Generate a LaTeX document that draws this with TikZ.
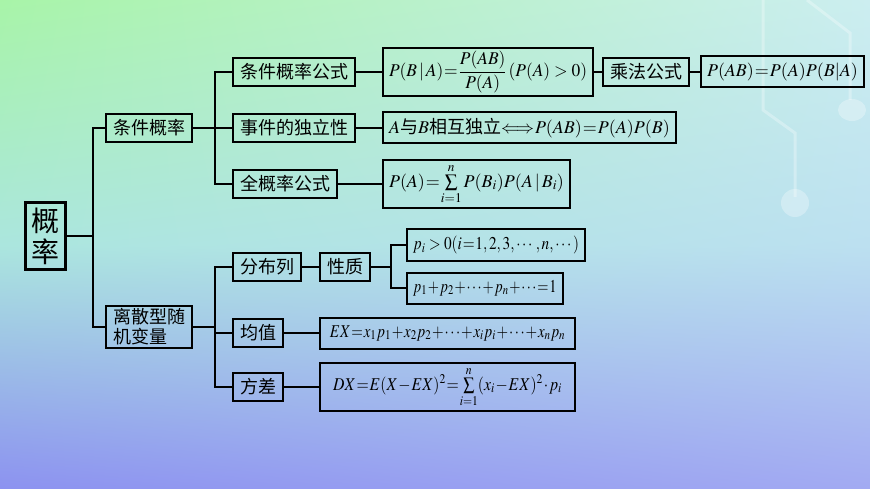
\documentclass[tikz,border=0pt]{standalone}
\usepackage{amsmath}
\usepackage{mathptmx}
\usepackage{graphicx}
\usepackage[no-math]{fontspec}
\setmainfont{Noto Sans CJK SC}
\usetikzlibrary{shadings}
\newcommand{\nodefont}{\fontsize{18}{20}\selectfont\medmuskip=1mu\thickmuskip=1mu}
\newcommand{\bigfont}{\fontsize{28}{31}\selectfont}
\definecolor{bgA}{HTML}{A8F4A8}
\definecolor{bgB}{HTML}{CCEEF0}
\definecolor{bgC}{HTML}{ABE6DE}
\definecolor{bgD}{HTML}{BCE0F0}
\definecolor{bgE}{HTML}{8C92F0}
\definecolor{bgF}{HTML}{A2AAF2}
\begin{document}
\begin{tikzpicture}[x=1pt,y=-1pt,
  box/.style={draw, line width=2pt, inner xsep=7pt, inner ysep=3pt, minimum height=28pt, anchor=west, font=\nodefont},
  fbox/.style={draw, line width=2pt, inner xsep=6pt, inner ysep=3pt, minimum height=31pt, anchor=west, font=\nodefont},
  link/.style={line width=2pt}]
\useasboundingbox (0,0) rectangle (870,489);
% background
\shade[upper left=bgA, upper right=bgB, lower left=bgC, lower right=bgD] (0,0) rectangle (870,245);
\shade[upper left=bgC, upper right=bgD, lower left=bgE, lower right=bgF] (0,245) rectangle (870,489);
\draw[white, opacity=.3, line width=3pt] (807,0)--(850,33)--(850,100);
\fill[white, opacity=.3] (852,110) ellipse[x radius=14, y radius=11];
\draw[white, opacity=.3, line width=3pt] (763,0)--(763,110)--(795,133)--(795,197);
\fill[white, opacity=.3] (795,203) circle[radius=14];
% nodes
\node[box, line width=2.6pt, font=\bigfont, align=center, inner xsep=6pt, inner ysep=5pt] (root) at (24,236) {概\\率};
\node[box] (tjgl) at (105,128) {条件概率};
\node[box, align=left] (lisan) at (105,327) {离散型随\\机变量};
\node[box] (gs) at (232,72) {条件概率公式};
\node[box] (dlx) at (232,128) {事件的独立性};
\node[box] (qgl) at (232,184) {全概率公式};
\node[fbox] (f1) at (382,72) {\scalebox{0.97}[1]{$P(B\,|\,A)=\dfrac{P(AB)}{P(A)}\,(P(A)\mskip3mu>\mskip3mu0)$}};
\node[box] (cf) at (602,72) {乘法公式};
\node[fbox] (f1b) at (700,72) {$P(AB)=P(A)P(B|A)$};
\node[fbox] (f2) at (382,128) {$A$与$B$相互独立$\Longleftrightarrow P(AB)=P(A)P(B)$};
\node[fbox, inner ysep=4pt] (f3) at (382,184) {$P(A)=\sum\limits_{i=1}^{n}P(B_i)P(A\,|\,B_i)$};
\node[box] (fbl) at (232,267) {分布列};
\node[box] (xz) at (319,267) {性质};
\node[fbox] (pa) at (406,245) {\scalebox{0.85}[1]{$p_i\mskip3mu>\mskip3mu0(i=1,2,3,\cdots,n,\cdots)$}};
\node[fbox] (pb) at (406,288) {\scalebox{0.8}[1]{$p_1+p_2+\cdots+p_n+\cdots=1$}};
\node[box] (jz) at (232,333) {均值};
\node[fbox, minimum width=255pt] (ex) at (319,333) {\scalebox{0.83}[1]{$EX=x_1p_1+x_2p_2+\cdots+x_ip_i+\cdots+x_np_n$}};
\node[box] (fc) at (232,387) {方差};
\node[fbox, minimum width=255pt, inner ysep=4pt] (dx) at (319,387) {\scalebox{0.875}[1]{$DX=E(X-EX)^2=\sum\limits_{i=1}^{n}(x_i-EX)^2\cdot p_i$}};
% connectors
\coordinate (c0) at (93,0);
\coordinate (c1) at (215,0);
\coordinate (c2) at (391,0);
\draw[link] (root.east) -- (root.east -| c0);
\draw[link] (tjgl.west) -- (tjgl.west -| c0) -- (lisan.west -| c0) -- (lisan.west);
\draw[link] (tjgl.east) -- (dlx.west);
\draw[link] (gs.west) -- (gs.west -| c1) -- (qgl.west -| c1) -- (qgl.west);
\draw[link] (gs.east) -- (f1.west);
\draw[link] (f1.east) -- (cf.west);
\draw[link] (cf.east) -- (f1b.west);
\draw[link] (dlx.east) -- (f2.west);
\draw[link] (qgl.east) -- (f3.west);
\draw[link] (lisan.east) -- (lisan.east -| c1);
\draw[link] (fbl.west) -- (fbl.west -| c1) -- (fc.west -| c1) -- (fc.west);
\draw[link] (jz.west) -- (jz.west -| c1);
\draw[link] (fbl.east) -- (xz.west);
\draw[link] (xz.east) -- (xz.east -| c2);
\draw[link] (pa.west) -- (pa.west -| c2) -- (pb.west -| c2) -- (pb.west);
\draw[link] (jz.east) -- (ex.west);
\draw[link] (fc.east) -- (dx.west);
\end{tikzpicture}
\end{document}
